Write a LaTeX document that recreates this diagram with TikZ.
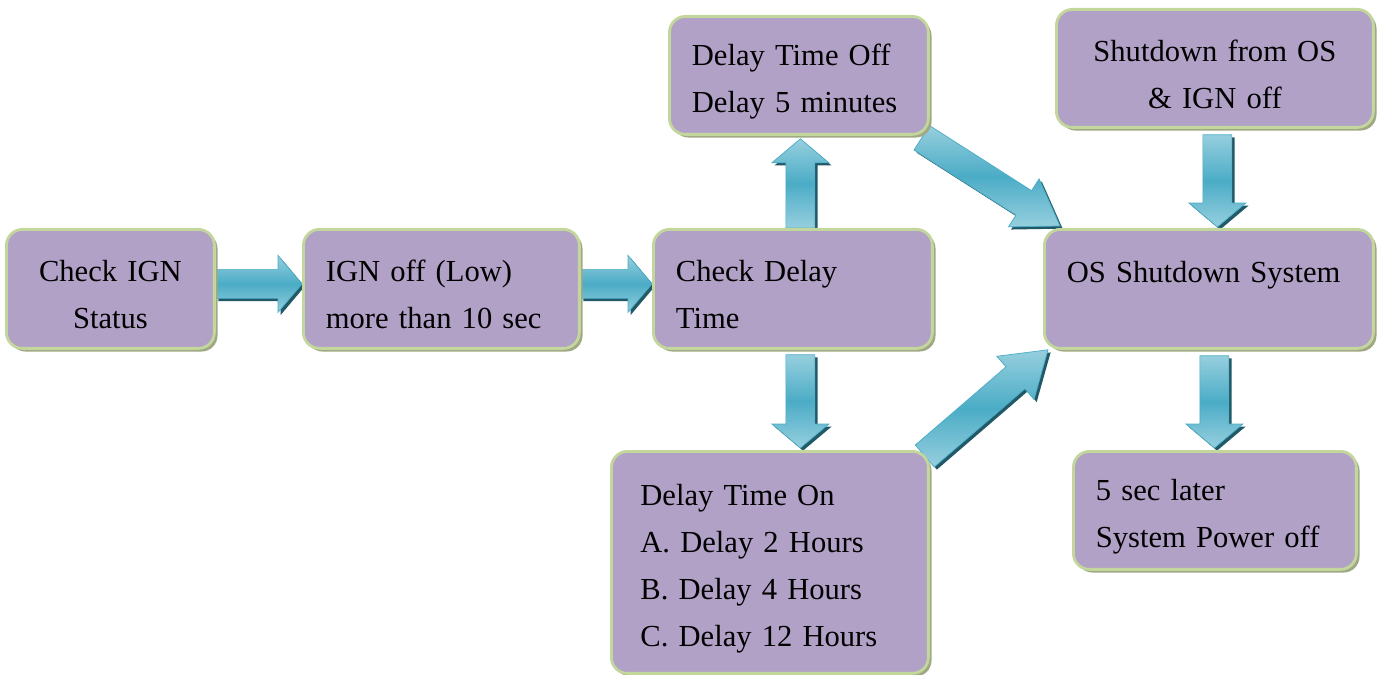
\documentclass[tikz,border=0pt]{standalone}
\usepackage{fontspec}
\setmainfont{Liberation Serif}
\usetikzlibrary{calc,shadows,positioning}
\definecolor{boxfill}{RGB}{178,161,199}
\definecolor{boxline}{RGB}{195,214,155}
\definecolor{boxshade}{RGB}{160,168,132}
\definecolor{arrowlight}{RGB}{150,207,222}
\definecolor{arrowdark}{RGB}{75,172,198}
\definecolor{arrowshade}{RGB}{33,89,104}
\pgfdeclarelayer{background}
\pgfsetlayers{background,main}
\tikzset{
	flowbox/.style={draw=boxline, line width=1.6pt, fill=boxfill, rounded corners=0.32cm,
		drop shadow={shadow xshift=1.8pt, shadow yshift=-1.8pt, fill=boxshade, opacity=1},
		anchor=north west, inner xsep=0.45cm, inner ysep=0pt, align=left,
		font=\fontsize{17.4}{26.7}\selectfont,
		execute at begin node={\rule{0pt}{19pt}}},
	flowarrow/.style={draw=arrowdark, line width=0.4pt, top color=arrowlight,
		bottom color=arrowlight, middle color=arrowdark,
		drop shadow={shadow xshift=1.5pt, shadow yshift=-1.5pt, fill=arrowshade, opacity=1}}
}
% block arrow: [head length]{tail}{tip}
\newcommand\blockarrow[3][0.48cm]{%
	\coordinate (ba-base) at ($(#3)!#1!(#2)$);
	\path[flowarrow] ($(#2)!0.29cm!90:(#3)$) -- ($(ba-base)!0.29cm!-90:(#2)$)
		-- ($(ba-base)!0.57cm!-90:(#2)$) -- (#3) -- ($(ba-base)!0.57cm!90:(#2)$)
		-- ($(ba-base)!0.29cm!90:(#2)$) -- ($(#2)!0.29cm!-90:(#3)$) -- cycle;
}
\begin{document}
\begin{tikzpicture}[x=0.02cm, y=-0.02cm]
	\useasboundingbox (0,0) rectangle (1378,675);
	% boxes, left to right
	\node[flowbox, align=center, text width=3.26cm, minimum height=2.38cm] (ign) at (5,228) {Check IGN\\Status};
	\node[flowbox, text width=4.62cm, minimum height=2.38cm] (ignoff) at (302,228) {IGN off (Low)\\more than 10 sec};
	\node[flowbox, text width=4.68cm, minimum height=2.38cm] (check) at (652,228) {Check Delay\\Time};
	\node[flowbox, text width=4.28cm, minimum height=2.36cm] (dtoff) at (668,15) {Delay Time Off\\Delay 5 minutes};
	\node[flowbox, inner xsep=0.58cm, text width=5.18cm, minimum height=4.44cm] (dton) at (610,450)
		{Delay Time On\\A. Delay 2 Hours\\B. Delay 4 Hours\\C. Delay 12 Hours};
	\node[flowbox, align=center, text width=5.44cm, minimum height=2.36cm] (osoff) at (1055,8) {Shutdown from OS\\\& IGN off};
	\node[flowbox, text width=5.68cm, minimum height=2.38cm] (osdown) at (1043,228) {OS Shutdown System\\\mbox{}};
	\node[flowbox, text width=4.76cm, minimum height=2.36cm] (pwroff) at (1072,450) {5 sec later\\System Power off};
	% arrow ends
	\coordinate (a1-s) at ($(ign.east)+(0,-5)$);
	\coordinate (a1-e) at ($(ignoff.west)+(0,-5)$);
	\coordinate (a2-s) at ($(ignoff.east)+(0,-5)$);
	\coordinate (a2-e) at ($(check.west)+(0,-5)$);
	\coordinate (a3-s) at ($(check.north)+(7.5,0)$);
	\coordinate (a3-e) at ($(dtoff.south)+(1.5,3)$);
	\coordinate (a4-s) at ($(check.south)+(7.5,5)$);
	\coordinate (a4-e) at ($(dton.north)+(30.5,-2)$);
	\coordinate (a5-s) at ($(dtoff.south east)+(-8,2)$);
	\coordinate (a5-e) at ($(osdown.north west)+(17,-2)$);
	\coordinate (a6-s) at ($(dton.north east)+(-5,6)$);
	\coordinate (a6-e) at ($(osdown.south west)+(5,0)$);
	\coordinate (a7-s) at ($(osoff.south)+(2.5,6)$);
	\coordinate (a7-e) at ($(osdown.north)+(8.5,-1)$);
	\coordinate (a8-s) at ($(osdown.south)+(5.5,6)$);
	\coordinate (a8-e) at ($(pwroff.north)+(-0.5,-2)$);
	% arrows behind the boxes
	\begin{pgfonlayer}{background}
	\blockarrow{a1-s}{a1-e}
	\blockarrow{a2-s}{a2-e}
	\blockarrow{a3-s}{a3-e}
	\blockarrow{a4-s}{a4-e}
	\blockarrow[0.86cm]{a5-s}{a5-e}
	\blockarrow[0.86cm]{a6-s}{a6-e}
	\blockarrow{a7-s}{a7-e}
	\blockarrow{a8-s}{a8-e}
	\end{pgfonlayer}
\end{tikzpicture}
\end{document}
